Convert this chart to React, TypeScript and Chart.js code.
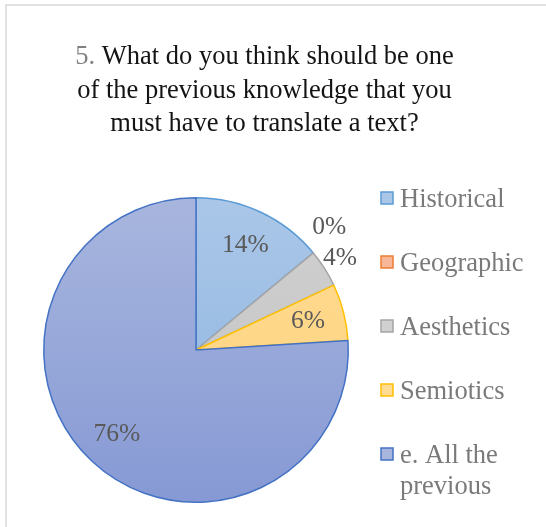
import React, { useEffect, useRef } from "react";
import { Chart, registerables } from "chart.js";

Chart.register(...registerables);

const titleLines = ["5. What do you think should be one", "of the previous knowledge that you", "must have to translate a text?"];
const categories = ["Historical", "Geographic", "Aesthetics", "Semiotics", "e. All the previous"];
const legendLines = [["Historical"], ["Geographic"], ["Aesthetics"], ["Semiotics"], ["e. All the", "previous"]];
const values = [14, 0, 4, 6, 76];
const fillTop = ["#aac7e8", "#f7b899", "#d0d0d0", "#ffdb94", "#a8b6de"];
const fillBottom = ["#8cb2df", "#f2a47c", "#c2c2c2", "#ffd27a", "#8699d4"];
const borderColors = ["#5b9bd5", "#ed7d31", "#a5a5a5", "#ffc000", "#4472c4"];

const FONT = `"Liberation Serif", "Times New Roman", "DejaVu Serif", serif`;

const overlay = {
  id: "overlay",
  afterDraw(chart: any) {
    const ctx = chart.ctx as CanvasRenderingContext2D;
    ctx.save();
    ctx.strokeStyle = "#d9d9d9";
    ctx.lineWidth = 1.5;
    ctx.strokeRect(6, 5, 600, 600);
    // title
    ctx.font = `26.5px ${FONT}`;
    ctx.textBaseline = "alphabetic";
    ctx.textAlign = "left";
    const cx = 264.5;
    const ys = [64, 97.5, 131];
    titleLines.forEach((line, i) => {
      const w = ctx.measureText(line).width;
      const x = cx - w / 2;
      if (i === 0) {
        const pre = "5.";
        ctx.fillStyle = "#808080";
        ctx.fillText(pre, x, ys[i]);
        const pw = ctx.measureText(pre).width;
        ctx.fillStyle = "#141414";
        ctx.fillText(line.slice(pre.length), x + pw, ys[i]);
      } else {
        ctx.fillStyle = "#141414";
        ctx.fillText(line, x, ys[i]);
      }
    });
    // data labels
    const meta = chart.getDatasetMeta(0);
    ctx.fillStyle = "#595959";
    ctx.font = `25.5px ${FONT}`;
    ctx.textAlign = "center";
    ctx.textBaseline = "middle";
    meta.data.forEach((arc: any, i: number) => {
      const p = arc.getProps(["x", "y", "startAngle", "endAngle", "outerRadius"], true);
      const mid = (p.startAngle + p.endAngle) / 2;
      const v = values[i];
      let r = p.outerRadius * 0.76;
      let a = mid;
      if (v === 0) {
        r = p.outerRadius * 1.19;
        a = mid - 0.054;
      } else if (v < 5) {
        r = p.outerRadius * 1.12;
      }
      const x = p.x + Math.cos(a) * r;
      const y = p.y + Math.sin(a) * r;
      ctx.fillText(v + "%", x, y);
    });
    // legend
    const lx = 381;
    const baseStart = 207;
    const step = 64;
    ctx.textAlign = "left";
    ctx.textBaseline = "alphabetic";
    ctx.font = `26.5px ${FONT}`;
    legendLines.forEach((lines, i) => {
      const b = baseStart + i * step;
      ctx.fillStyle = fillTop[i];
      ctx.fillRect(lx, b - 15, 12, 12);
      ctx.strokeStyle = borderColors[i];
      ctx.lineWidth = 1.5;
      ctx.strokeRect(lx, b - 15, 12, 12);
      ctx.fillStyle = "#7a7a7a";
      lines.forEach((t, j) => {
        ctx.fillText(t, 400, b + j * 31);
      });
    });
    ctx.restore();
  },
};

export default function App() {
  const ref = useRef<HTMLCanvasElement | null>(null);
  useEffect(() => {
    const canvas = ref.current!;
    const chart = new Chart(canvas, {
      type: "pie",
      data: {
        labels: categories,
        datasets: [
          {
            data: values,
            backgroundColor: (c: any) => {
              const area = c.chart.chartArea;
              if (!area) return fillTop[c.dataIndex];
              const g = c.chart.ctx.createLinearGradient(0, area.top, 0, area.bottom);
              g.addColorStop(0, fillTop[c.dataIndex]);
              g.addColorStop(1, fillBottom[c.dataIndex]);
              return g;
            },
            borderColor: borderColors,
            borderWidth: 1.5,
          },
        ],
      },
      options: {
        animation: false,
        responsive: false,
        layout: { padding: { left: 43, right: 197, top: 197, bottom: 24 } },
        plugins: { legend: { display: false }, title: { display: false }, tooltip: { enabled: false } },
      },
      plugins: [overlay],
    });
    let alive = true;
    document.fonts.load(`25px "Liberation Serif"`).then(() => { if (alive) chart.draw(); });
    return () => { alive = false; chart.destroy(); };
  }, []);
  return (
    <div style={{ position: "fixed", left: 0, top: 0, width: 546, height: 527, background: "#fff" }}>
      <canvas ref={ref} width={546} height={527} style={{ width: 546, height: 527 }} />
    </div>
  );
}
